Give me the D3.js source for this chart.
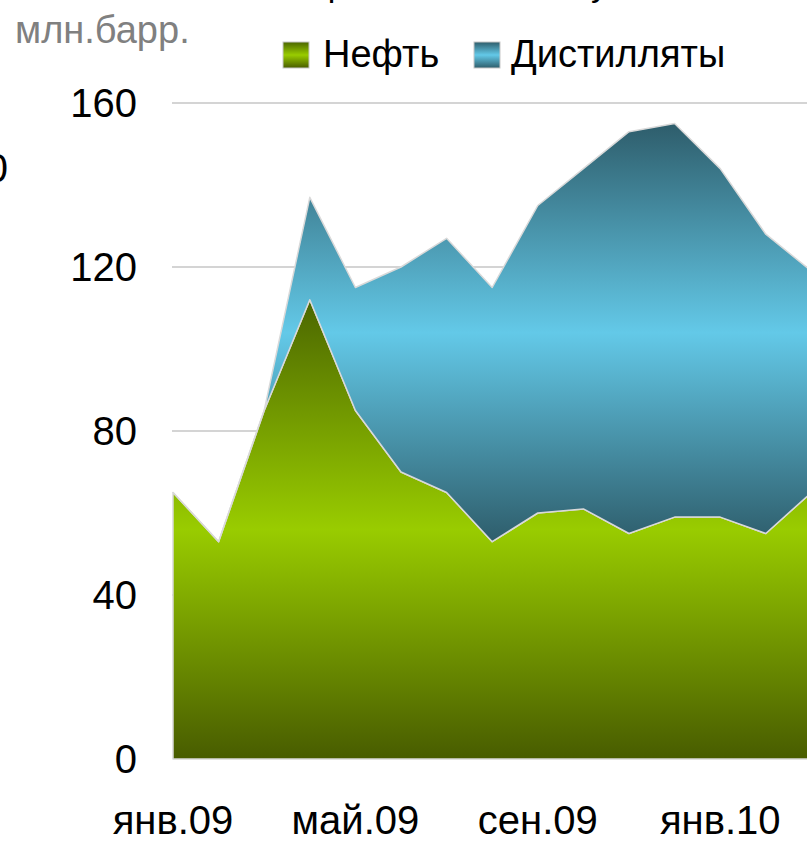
<!DOCTYPE html>
<html>
<head>
<meta charset="utf-8">
<script src="https://cdn.jsdelivr.net/npm/d3@7"></script>
<style>
  body { margin: 0; background: #fff; }
  svg { display: block; font-family: "Liberation Sans", Arial, sans-serif; }
</style>
</head>
<body>
<div id="chart"></div>
<script>
// Data (млн. барр.)
const months = ["янв.09", "фев.09", "мар.09", "апр.09", "май.09", "июн.09", "июл.09", "авг.09",
  "сен.09", "окт.09", "ноя.09", "дек.09", "янв.10", "фев.10", "мар.10"];
const oil = [65, 53, 85, 112, 85, 70, 65, 53, 60, 61, 55, 59, 59, 55, 65];
const distillates = [0, 0, 0, 25, 30, 50, 62, 62, 75, 83, 98, 96, 85, 73, 54];
const yTicks = [0, 40, 80, 120, 160];
const xLabels = ["янв.09", "май.09", "сен.09", "янв.10"];
const seriesNames = ["Нефть", "Дистилляты"];

const width = 807, height = 842;

const svg = d3.select("#chart")
  .append("svg")
  .attr("width", width)
  .attr("height", height);

// Gradients (dark - light - dark, like the office chart)
const defs = svg.append("defs");
function addGradient(id, dark, light, darkBottom) {
  const g = defs.append("linearGradient")
    .attr("id", id)
    .attr("x1", 0).attr("y1", 0).attr("x2", 0).attr("y2", 1);
  g.append("stop").attr("offset", "0%").attr("stop-color", dark);
  g.append("stop").attr("offset", "50%").attr("stop-color", light);
  g.append("stop").attr("offset", "100%").attr("stop-color", darkBottom);
}
addGradient("gOil", "#4b6600", "#99cc00", "#485c00");
addGradient("gDist", "#2e5d6b", "#63c9e8", "#2e5d6b");
const fills = ["url(#gOil)", "url(#gDist)"];

// Scales
const x = d3.scalePoint()
  .domain(months)
  .range([173, 811.4]);

const y = d3.scaleLinear()
  .domain([0, 160])
  .range([759, 103]);

// Grid lines
svg.append("g")
  .selectAll("line")
  .data(yTicks.filter(d => d > 0))
  .join("line")
  .attr("x1", 172)
  .attr("x2", width)
  .attr("y1", d => y(d))
  .attr("y2", d => y(d))
  .attr("stroke", "#d4d4d4")
  .attr("stroke-width", 2);

// Stacked areas
const table = months.map((m, i) => ({month: m, oil: oil[i], dist: distillates[i]}));
const stacked = d3.stack().keys(["oil", "dist"])(table);

const area = d3.area()
  .x(d => x(d.data.month))
  .y0(d => y(d[0]))
  .y1(d => y(d[1]));

svg.append("g")
  .selectAll("path")
  .data(stacked)
  .join("path")
  .attr("fill", (d, i) => fills[i])
  .attr("stroke", "#d9d9d9")
  .attr("stroke-width", 1.5)
  .attr("stroke-linejoin", "round")
  .attr("d", area);

// Y axis labels
svg.append("g")
  .selectAll("text")
  .data(yTicks)
  .join("text")
  .attr("x", 137)
  .attr("y", d => y(d))
  .attr("dy", "0.36em")
  .attr("text-anchor", "end")
  .style("font-size", "40px")
  .attr("fill", "#000")
  .text(d => d);

// X axis labels
svg.append("g")
  .selectAll("text")
  .data(xLabels)
  .join("text")
  .attr("x", d => x(d))
  .attr("y", 834)
  .attr("text-anchor", "middle")
  .style("font-size", "40px")
  .attr("fill", "#000")
  .text(d => d);

// Unit label
svg.append("text")
  .attr("x", 15)
  .attr("y", 43)
  .style("font-size", "38px")
  .attr("fill", "#808080")
  .text("млн.барр.");

// Title (cut off at the top of the picture, only descenders show)
svg.append("text")
  .attr("x", 305)
  .attr("y", -4)
  .style("font-size", "34px")
  .attr("fill", "#000")
  .text("Хранение на плаву");

// Cut-off label at the left edge
svg.append("text")
  .attr("x", 8)
  .attr("y", 182)
  .attr("text-anchor", "end")
  .style("font-size", "40px")
  .attr("fill", "#000")
  .text("0");

// Legend
const legendItems = [
  {name: seriesNames[0], fill: fills[0], sx: 283, tx: 323},
  {name: seriesNames[1], fill: fills[1], sx: 474, tx: 511}
];
const legend = svg.append("g");
legend.selectAll("rect")
  .data(legendItems)
  .join("rect")
  .attr("x", d => d.sx)
  .attr("y", 42)
  .attr("width", 26)
  .attr("height", 26)
  .attr("fill", d => d.fill)
  .attr("stroke", "#c8c8c8")
  .attr("stroke-width", 1);

legend.selectAll("text")
  .data(legendItems)
  .join("text")
  .attr("x", d => d.tx)
  .attr("y", 67)
  .style("font-size", "38px")
  .attr("fill", "#000")
  .text(d => d.name);
</script>
</body>
</html>
